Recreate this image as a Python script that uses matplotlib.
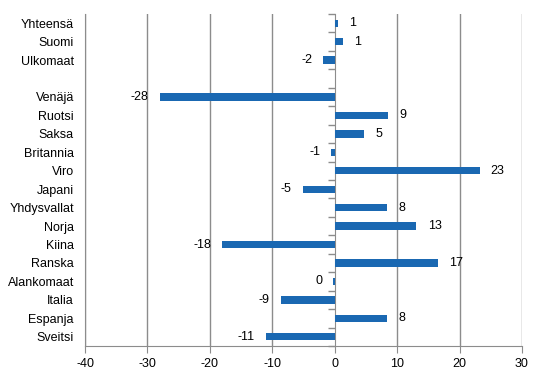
import numpy as np
import matplotlib.pyplot as plt

plt.rcParams['font.family'] = ['Liberation Sans', 'DejaVu Sans']

# Luokat ylhäältä alas (tyhjä rivi Ulkomaat-rivin jälkeen)
top_labels = ['Yhteensä', 'Suomi', 'Ulkomaat']
top_values = [0.6, 1.4, -1.8]
countries = ['Venäjä', 'Ruotsi', 'Saksa', 'Britannia', 'Viro', 'Japani',
             'Yhdysvallat', 'Norja', 'Kiina', 'Ranska', 'Alankomaat',
             'Italia', 'Espanja', 'Sveitsi']
country_values = [-28.0, 8.6, 4.7, -0.55, 23.2, -5.1,
                  8.4, 13.1, -18.0, 16.6, -0.2,
                  -8.6, 8.4, -11.0]
xticks = [-40, -30, -20, -10, 0, 10, 20, 30]

labels = top_labels + countries
values = np.array(top_values + country_values)
pos = np.array(list(range(len(top_labels))) +
               [len(top_labels) + 1 + i for i in range(len(countries))])
n_slots = len(labels) + 1

grey = '#8c8c8c'
bar_color = '#1a68b2'
fs = 9

fig = plt.figure(figsize=(5.46, 3.76), dpi=100)
ax = fig.add_axes([0.1557, 0.0798, 0.8003, 0.883])

ax.barh(pos, values, height=0.4, color=bar_color, zorder=3)

ax.set_xlim(-40, 30)
ax.set_ylim(n_slots - 0.5, -0.5)
ax.set_xticks(xticks)
ax.set_xticklabels([str(t) for t in xticks], fontsize=fs)
ax.set_yticks(pos)
ax.set_yticklabels(labels, fontsize=fs)
ax.tick_params(axis='y', length=0, pad=8)
ax.tick_params(axis='x', length=5, color=grey, pad=4)

for t in xticks:
    if t != 0:
        ax.axvline(t, color=grey, lw=1, zorder=1)

for s in ['top', 'right']:
    ax.spines[s].set_visible(False)
ax.spines['left'].set_color(grey)
ax.spines['bottom'].set_color(grey)

# nolla-akseli luokkarajojen tikkeineen
frac0 = (0 - (-40)) / 70
sec = ax.secondary_yaxis(frac0)
sec.yaxis.set_ticks_position('left')
sec.set_yticks(np.arange(-0.5, n_slots, 1.0))
sec.set_yticklabels([])
sec.tick_params(length=5, width=1, color=grey, direction='out')
for s in sec.spines.values():
    s.set_color(grey)

for p, v in zip(pos, values):
    txt = str(int(round(v)))
    if v >= 0:
        ax.annotate(txt, (v, p), xytext=(8, 0), textcoords='offset points',
                    ha='left', va='center', fontsize=fs)
    else:
        ax.annotate(txt, (v, p), xytext=(-8, 0), textcoords='offset points',
                    ha='right', va='center', fontsize=fs)

fig.savefig('out.png', dpi=100)
